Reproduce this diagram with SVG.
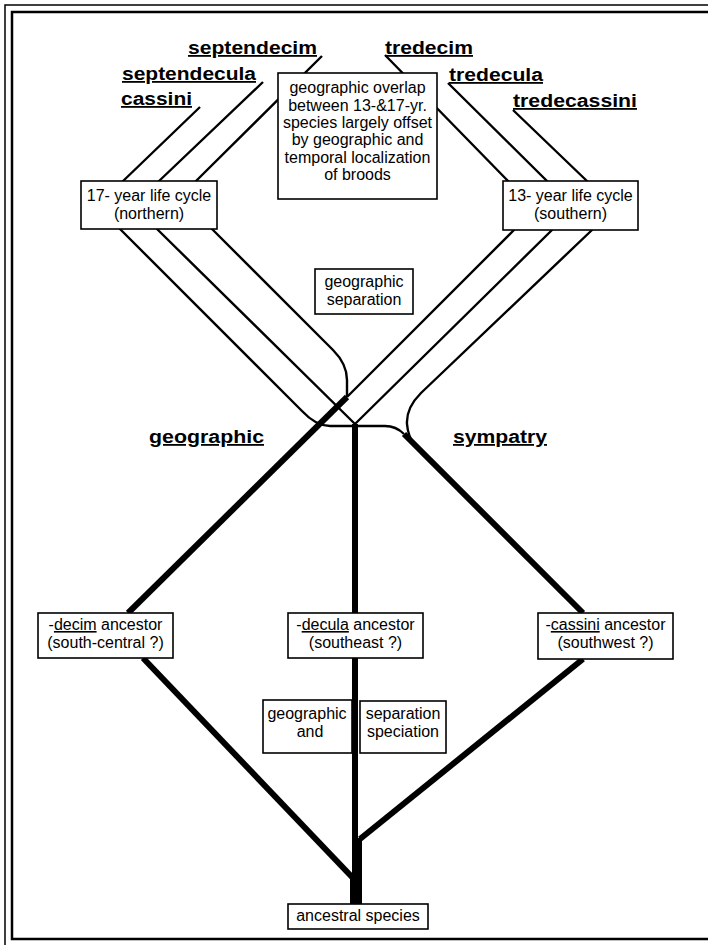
<svg xmlns="http://www.w3.org/2000/svg" width="708" height="945" viewBox="0 0 708 945">
<style>
.thin{fill:none;stroke:#000;stroke-width:2.4;stroke-linejoin:round}
.thick{fill:none;stroke:#000;stroke-width:6}
.trunk{fill:#000;stroke:none}
.box{fill:#fff;stroke:#000;stroke-width:1.6}
.t{font-family:"Liberation Sans",Arial,Helvetica,sans-serif;font-size:16px;fill:#000;text-anchor:middle}
.lbl{font-family:"Liberation Sans",Arial,Helvetica,sans-serif;font-size:18px;font-weight:bold;fill:#000;text-decoration:underline}
.u{text-decoration:underline}
.frame{fill:none;stroke:#000}
</style>
<rect width="708" height="945" fill="#fff"/>
<g id="frame">
<path class="frame" d="M5,945 V5 H708" stroke-width="1.5"/>
<path class="frame" d="M708,12 H12 V939 H708" stroke-width="2.5"/>
</g>
<g id="connectors">
<path class="thin" d="M200,107 L121,183 L120,229 L302,411 Q316,426 330,426 L385,426 Q396,426 404,434"/>
<path class="thin" d="M263,82 L158,182 L157,229 L355,424"/>
<path class="thin" d="M322,56 L195,182 L212,229 L333,350 Q347,364 347,380 L347,397"/>
<path class="thin" d="M385,55 L509,182 L514,230 L347,397"/>
<path class="thin" d="M448,83 L548,182 L552,230 L355,424"/>
<path class="thin" d="M513,110 L588,182 L592,230 L421,393 Q406,408 407,424 Q408,436 414,444"/>
<path class="thick" d="M347,397 L128,613"/>
<path class="thick" d="M404,434 L583,613"/>
<path class="thick" d="M143,658 L352,877"/>
<path class="thick" d="M583,659 L360,839"/>
<path class="trunk" d="M352,424 L358,424 L358,838 L362,838 L362,904 L350,904 L350,877 L352,877 Z"/>
</g>
<g id="overlap-note">
<rect class="box" x="278" y="73" width="159" height="126"/>
<text class="t" x="357.5" y="93">geographic overlap</text>
<text class="t" x="357.5" y="110.5">between 13-&amp;17-yr.</text>
<text class="t" x="357.5" y="128">species largely offset</text>
<text class="t" x="357.5" y="145">by geographic and</text>
<text class="t" x="357.5" y="162.5">temporal localization</text>
<text class="t" x="357.5" y="180">of broods</text>
</g>
<g id="life17">
<rect class="box" x="81" y="181" width="136" height="48"/>
<text class="t" x="149" y="201">17- year life cycle</text>
<text class="t" x="149" y="219">(northern)</text>
</g>
<g id="life13">
<rect class="box" x="503" y="181" width="135" height="49"/>
<text class="t" x="570.5" y="201">13- year life cycle</text>
<text class="t" x="570.5" y="219">(southern)</text>
</g>
<g id="geo-sep">
<rect class="box" x="315" y="269" width="98" height="45"/>
<text class="t" x="364" y="287">geographic</text>
<text class="t" x="364" y="305">separation</text>
</g>
<g id="decim-anc">
<rect class="box" x="38" y="613" width="135" height="45"/>
<text class="t" x="105.5" y="630">-<tspan class="u">decim</tspan> ancestor</text>
<text class="t" x="105.5" y="648">(south-central ?)</text>
</g>
<g id="decula-anc">
<rect class="box" x="288" y="613" width="135" height="45"/>
<text class="t" x="355.5" y="630">-<tspan class="u">decula</tspan> ancestor</text>
<text class="t" x="355.5" y="648">(southeast ?)</text>
</g>
<g id="cassini-anc">
<rect class="box" x="538" y="613" width="135" height="46"/>
<text class="t" x="605.5" y="630">-<tspan class="u">cassini</tspan> ancestor</text>
<text class="t" x="605.5" y="648">(southwest ?)</text>
</g>
<g id="geo-and">
<rect class="box" x="263" y="700" width="89" height="53"/>
<text class="t" x="307" y="719">geographic</text>
<text class="t" x="310" y="737">and</text>
</g>
<g id="sep-spec">
<rect class="box" x="360" y="701" width="86" height="52"/>
<text class="t" x="403" y="719">separation</text>
<text class="t" x="403" y="737">speciation</text>
</g>
<g id="ancestral">
<rect class="box" x="288" y="904" width="140" height="25"/>
<text class="t" x="358" y="921">ancestral species</text>
</g>
<g id="labels">
<text class="lbl" x="188" y="54" textLength="129" lengthAdjust="spacingAndGlyphs">septendecim</text>
<text class="lbl" x="122" y="80" textLength="134" lengthAdjust="spacingAndGlyphs">septendecula</text>
<text class="lbl" x="121" y="105" textLength="71" lengthAdjust="spacingAndGlyphs">cassini</text>
<text class="lbl" x="385" y="54" textLength="88" lengthAdjust="spacingAndGlyphs">tredecim</text>
<text class="lbl" x="449" y="81" textLength="94" lengthAdjust="spacingAndGlyphs">tredecula</text>
<text class="lbl" x="513" y="107" textLength="124" lengthAdjust="spacingAndGlyphs">tredecassini</text>
<text class="lbl" x="149" y="443" textLength="115" lengthAdjust="spacingAndGlyphs">geographic</text>
<text class="lbl" x="453" y="443" textLength="94" lengthAdjust="spacingAndGlyphs">sympatry</text>
</g>
</svg>
